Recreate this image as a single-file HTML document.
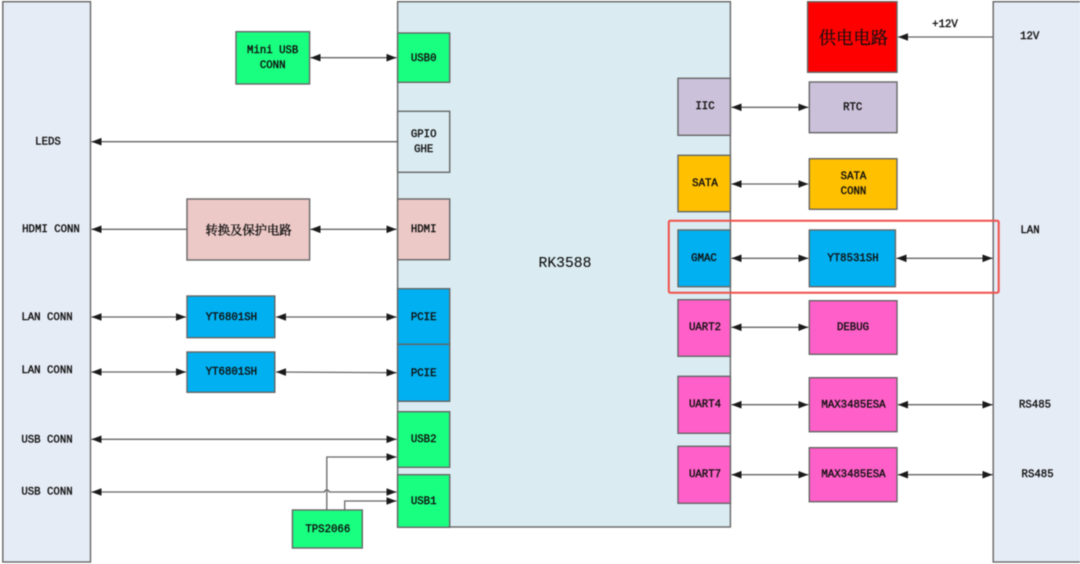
<!DOCTYPE html>
<html><head><meta charset="utf-8">
<style>
html,body{margin:0;padding:0;background:#fff;width:1080px;height:564px;overflow:hidden}
svg{display:block;filter:blur(0.45px)}
text{font-family:"Liberation Mono","Noto Serif CJK SC",monospace;font-size:10.7px;fill:#111;text-anchor:middle;dominant-baseline:central;stroke:#111;stroke-width:.38px}
.b{stroke:#666;stroke-width:1.4}
.l{stroke:#666;stroke-width:1.3;fill:none}
.g{fill:#19ff80}.p{fill:#ff5fc8}.c{fill:#00b0f0}.y{fill:#ffc000}.v{fill:#ccc1da}.r{fill:#ecc9c7}
</style></head><body>
<svg width="1080" height="564" viewBox="0 0 1080 564" xmlns="http://www.w3.org/2000/svg">
<defs>
<marker id="e" markerUnits="userSpaceOnUse" markerWidth="11" markerHeight="9" refX="10" refY="4.5" orient="auto-start-reverse"><path d="M0 .7L10 4.5L0 8.3z" fill="#1a1a1a"/></marker>
</defs>

<!-- panels -->
<rect class="b" x="2.8" y="1.7" width="87.7" height="560.3" fill="#e6ecf6"/>
<rect class="b" x="397.6" y="1.7" width="332.8" height="525.3" fill="#daecf2"/>
<rect class="b" x="993.2" y="1.7" width="100" height="560.3" fill="#e6ecf6"/>

<!-- connectors -->
<g class="l">
<path class="l" d="M310.5 57.7H396.5" marker-start="url(#e)" marker-end="url(#e)"/>
<path class="l" d="M397 141.7H91.5" marker-end="url(#e)"/>
<path class="l" d="M187 229.3H91.5" marker-end="url(#e)"/>
<path class="l" d="M310.5 229.3H396.5" marker-start="url(#e)" marker-end="url(#e)"/>
<path class="l" d="M91.5 317H186" marker-start="url(#e)" marker-end="url(#e)"/>
<path class="l" d="M276 317H396.5" marker-start="url(#e)" marker-end="url(#e)"/>
<path class="l" d="M91.5 372H186" marker-start="url(#e)" marker-end="url(#e)"/>
<path class="l" d="M276 372L396.5 372.7" marker-start="url(#e)" marker-end="url(#e)"/>
<path class="l" d="M91.5 439.3H396.5" marker-start="url(#e)" marker-end="url(#e)"/>
<path class="l" d="M91.5 492H324.5A2.4 2.4 0 0 1 329.2 492H396.5" marker-start="url(#e)" marker-end="url(#e)"/>
<path class="l" d="M326.8 510V457H396.5" marker-end="url(#e)"/>
<path class="l" d="M344.7 510V501H396.5" marker-end="url(#e)"/>
<path class="l" d="M731.5 107.3H808.3" marker-start="url(#e)" marker-end="url(#e)"/>
<path class="l" d="M731.5 184H808.3" marker-start="url(#e)" marker-end="url(#e)"/>
<path class="l" d="M731.5 258.3H808.3" marker-start="url(#e)" marker-end="url(#e)"/>
<path class="l" d="M896.5 258.3H992.5" marker-start="url(#e)" marker-end="url(#e)"/>
<path class="l" d="M993 37H898" marker-end="url(#e)"/>
<path class="l" d="M731.5 327.3H808.3" marker-start="url(#e)" marker-end="url(#e)"/>
<path class="l" d="M731.5 404.7H808.3" marker-start="url(#e)" marker-end="url(#e)"/>
<path class="l" d="M898 404.7H992.5" marker-start="url(#e)" marker-end="url(#e)"/>
<path class="l" d="M731.5 474.7H808.3" marker-start="url(#e)" marker-end="url(#e)"/>
<path class="l" d="M898 474.7H992.5" marker-start="url(#e)" marker-end="url(#e)"/>
</g>

<!-- left column boxes -->
<rect class="b g" x="236" y="31.7" width="73.6" height="52.3"/>
<rect class="b r" x="187" y="199" width="122.6" height="61"/>
<rect class="b c" x="187" y="296" width="87.8" height="41.7"/>
<rect class="b c" x="187" y="352" width="87.8" height="40.3"/>
<rect class="b g" x="292.4" y="510" width="69.9" height="38"/>

<!-- RK3588 left ports -->
<rect class="b g" x="397.6" y="33" width="52.1" height="49.3"/>
<rect class="b" x="397.6" y="111.3" width="52.1" height="61" fill="#daecf2"/>
<rect class="b r" x="397.6" y="199" width="52.1" height="60.7"/>
<rect class="b c" x="397.6" y="288.7" width="52.1" height="55.6"/>
<rect class="b c" x="397.6" y="344.3" width="52.1" height="57"/>
<rect class="b g" x="397.6" y="411.7" width="52.1" height="55.6"/>
<rect class="b g" x="397.6" y="474.7" width="52.1" height="52.6"/>

<!-- RK3588 right ports -->
<rect class="b v" x="678" y="78.3" width="52.4" height="57"/>
<rect class="b y" x="678" y="155.3" width="52.4" height="56.4"/>
<rect class="b c" x="678" y="230" width="52.4" height="56.7"/>
<rect class="b p" x="678" y="299.7" width="52.4" height="56.6"/>
<rect class="b p" x="678" y="376.3" width="52.4" height="57"/>
<rect class="b p" x="678" y="446.3" width="52.4" height="57"/>

<!-- right column boxes -->
<rect class="b" x="807.6" y="1.7" width="89.4" height="70.6" fill="#ff0000"/>
<rect class="b v" x="809.3" y="82" width="87.7" height="50.7"/>
<rect class="b y" x="809.3" y="158.7" width="87.7" height="50.6"/>
<rect class="b c" x="809.3" y="230" width="86.1" height="56.7"/>
<rect class="b p" x="809.3" y="300.7" width="87.7" height="53.6"/>
<rect class="b p" x="809.3" y="377.7" width="87.7" height="54"/>
<rect class="b p" x="809.3" y="447.7" width="87.7" height="54"/>

<!-- highlight -->
<rect x="668.8" y="220.7" width="329.9" height="72" rx="1.5" fill="none" stroke="#f0504a" stroke-width="2"/>

<!-- labels -->
<g transform="translate(0,1.1)">
<text x="272.7" y="50">Mini USB</text><text x="272.7" y="65">CONN</text>
<text x="423.7" y="57.7">USB0</text>
<text x="423.7" y="134">GPIO</text><text x="423.7" y="149">GHE</text>
<text x="423.7" y="229">HDMI</text>
<text x="48" y="141.5">LEDS</text>
<text x="51" y="229">HDMI CONN</text>
<text x="248.5" y="228.5" style="font-size:12.3px;font-family:'Noto Serif CJK SC',serif;stroke-width:.35px">转换及保护电路</text>
<text x="47" y="316.7">LAN CONN</text>
<text x="47" y="369.7">LAN CONN</text>
<text x="47" y="439.3">USB CONN</text>
<text x="47" y="491.3">USB CONN</text>
<text x="231.4" y="317">YT6801SH</text>
<text x="231.4" y="371.5">YT6801SH</text>
<text x="423.7" y="316.7">PCIE</text>
<text x="423.7" y="373">PCIE</text>
<text x="423.7" y="439">USB2</text>
<text x="423.7" y="501">USB1</text>
<text x="327.8" y="528.7">TPS2066</text>
<text x="565" y="263" style="font-size:14.7px;stroke-width:.12px">RK3588</text>
<text x="853.4" y="35.3" style="font-size:17.4px;font-family:'Noto Serif CJK SC',serif;stroke-width:.2px">供电电路</text>
<text x="945" y="24">+12V</text>
<text x="1029.7" y="36">12V</text>
<text x="1030" y="230">LAN</text>
<text x="1035" y="404.3">RS485</text>
<text x="1037.6" y="474">RS485</text>
<text x="705" y="106">IIC</text>
<text x="852.7" y="107">RTC</text>
<text x="705" y="183">SATA</text>
<text x="853.5" y="176">SATA</text><text x="853.5" y="191">CONN</text>
<text x="704" y="258">GMAC</text>
<text x="853" y="258">YT8531SH</text>
<text x="705" y="327">UART2</text>
<text x="853" y="327">DEBUG</text>
<text x="705" y="404">UART4</text>
<text x="853.5" y="404.5">MAX3485ESA</text>
<text x="705" y="474">UART7</text>
<text x="853.5" y="474">MAX3485ESA</text>
</g>
</svg>
</body></html>
